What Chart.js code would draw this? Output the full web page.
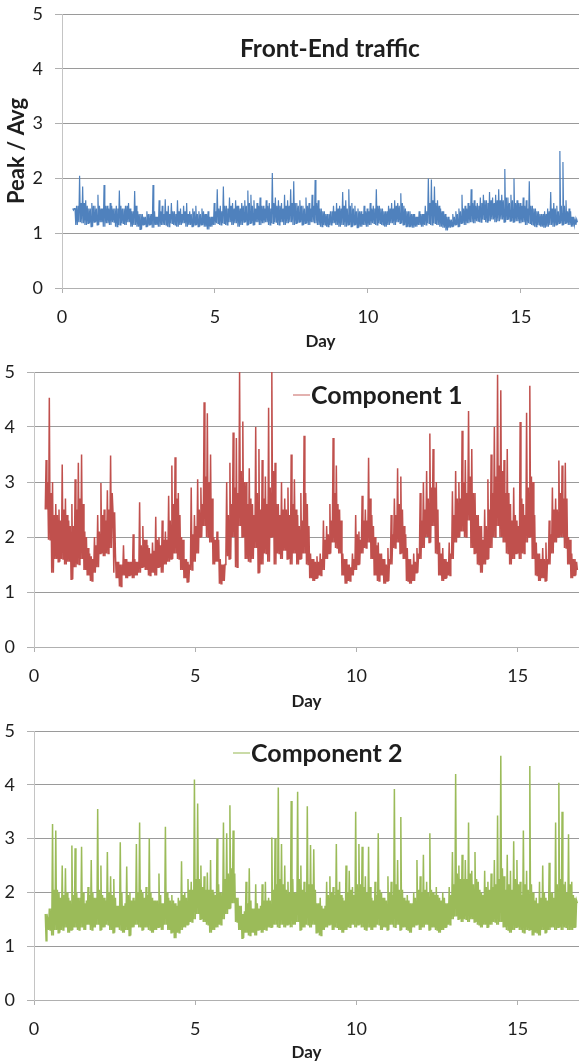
<!DOCTYPE html>
<html>
<head>
<meta charset="utf-8">
<title>Peak / Avg per day</title>
<script src="https://cdn.jsdelivr.net/npm/chart.js@4.4.0/dist/chart.umd.min.js"></script>
<style>
  html, body { margin: 0; padding: 0; background: #ffffff; }
  body { width: 579px; height: 1064px; position: relative; overflow: hidden; }
  .panel { position: absolute; left: 0; width: 579px; }
  canvas { display: block; }
</style>
</head>
<body>
<div class="panel" style="top:0;height:355px"><canvas id="frontEndChart" width="579" height="355"></canvas></div>
<div class="panel" style="top:355px;height:355px"><canvas id="component1Chart" width="579" height="355"></canvas></div>
<div class="panel" style="top:710px;height:354px"><canvas id="component2Chart" width="579" height="354"></canvas></div>
<script>
// Each 0.1-day window starts at day 0.35 + 0.1*j.
const DAY_START = 0.35;
const WINDOW = 0.1;

const dayTicks = [0, 5, 10, 15];
const ratioTicks = [0, 1, 2, 3, 4, 5];

const titles = {
  frontEnd: 'Front-End traffic',
  component1: 'Component 1',
  component2: 'Component 2',
  xAxis: 'Day',
  yAxis: 'Peak / Avg'
};

// Peak / Avg ratio: per window a (floor, peak) pair, one row per day, closing value at the end
const frontEnd = [
  1.45,1.42, 1.15,1.5, 1.2,2.05, 1.18,1.85, 1.15,1.6, 1.18,1.45, 1.12,1.55, 1.2,1.5, 1.15,1.7, 1.2,1.45,
  1.12,1.88, 1.18,1.5, 1.15,1.55, 1.2,1.45, 1.12,1.5, 1.15,1.78, 1.18,1.45, 1.15,1.5, 1.2,1.55, 1.12,1.4,
  1.15,1.77, 1.12,1.4, 1.07,1.35, 1.15,1.3, 1.12,1.4, 1.15,1.35, 1.1,1.88, 1.15,1.3, 1.12,1.6, 1.15,1.5,
  1.15,1.62, 1.12,1.5, 1.18,1.55, 1.15,1.4, 1.12,1.6, 1.15,1.45, 1.18,1.5, 1.12,1.55, 1.15,1.4, 1.12,1.45,
  1.15,1.5, 1.12,1.4, 1.15,1.45, 1.12,1.35, 1.07,1.4, 1.12,1.3, 1.15,1.55, 1.18,1.8, 1.15,1.5, 1.18,1.85,
  1.15,1.5, 1.2,1.65, 1.15,1.55, 1.18,1.6, 1.12,1.5, 1.15,1.55, 1.2,1.6, 1.15,1.78, 1.18,1.7, 1.15,1.6,
  1.2,1.55, 1.15,1.65, 1.18,1.5, 1.2,1.6, 1.15,1.55, 1.18,2.1, 1.2,1.65, 1.15,1.6, 1.2,1.55, 1.15,1.7,
  1.18,1.6, 1.2,1.8, 1.15,1.95, 1.18,1.55, 1.2,1.6, 1.15,1.5, 1.18,1.65, 1.15,1.55, 1.2,1.7, 1.18,1.97,
  1.15,1.6, 1.12,1.45, 1.15,1.4, 1.12,1.35, 1.15,1.4, 1.18,1.5, 1.15,1.55, 1.12,1.5, 1.15,1.75, 1.12,1.6,
  1.15,1.8, 1.12,1.55, 1.15,1.5, 1.1,1.45, 1.12,1.4, 1.15,1.5, 1.12,1.45, 1.15,1.55, 1.18,1.5, 1.15,1.8,
  1.18,1.5, 1.15,1.45, 1.12,1.4, 1.15,1.5, 1.18,1.55, 1.15,1.6, 1.2,1.55, 1.18,1.73, 1.15,1.5, 1.12,1.4,
  1.12,1.4, 1.1,1.35, 1.12,1.3, 1.15,1.4, 1.12,1.35, 1.15,1.5, 1.18,2.0, 1.15,1.98, 1.18,1.85, 1.15,1.6,
  1.12,1.45, 1.1,1.4, 1.05,1.3, 1.1,1.25, 1.12,1.35, 1.15,1.4, 1.12,1.45, 1.18,1.7, 1.15,1.5, 1.18,1.55,
  1.2,1.8, 1.18,1.6, 1.22,1.55, 1.2,1.65, 1.25,1.7, 1.2,1.6, 1.22,1.75, 1.25,1.65, 1.2,1.7, 1.22,1.8,
  1.25,1.7, 1.2,2.17, 1.25,1.65, 1.22,1.7, 1.2,2.0, 1.22,1.6, 1.18,1.55, 1.2,1.65, 1.15,1.6, 1.18,1.95,
  1.15,1.5, 1.12,1.45, 1.15,1.4, 1.12,1.35, 1.1,1.4, 1.12,1.45, 1.15,1.75, 1.12,1.55, 1.15,1.5, 1.18,2.5,
  1.15,2.3, 1.18,1.6, 1.15,1.45, 1.12,1.3, 1.15,1.25, 1.2
];
// Upper edge of the dense band in each window
const frontEndBand = [
  1.45,1.5,1.55,1.55,1.5,1.45,1.5,1.45,1.5,1.45,
  1.5,1.45,1.5,1.45,1.45,1.5,1.45,1.5,1.45,1.4,
  1.5,1.35,1.35,1.3,1.35,1.35,1.4,1.3,1.4,1.35,
  1.4,1.35,1.4,1.35,1.4,1.35,1.4,1.35,1.35,1.4,
  1.35,1.35,1.4,1.35,1.3,1.3,1.4,1.45,1.4,1.5,
  1.45,1.5,1.45,1.5,1.45,1.5,1.5,1.55,1.5,1.45,
  1.5,1.5,1.45,1.5,1.45,1.55,1.5,1.5,1.45,1.5,
  1.5,1.55,1.55,1.5,1.5,1.45,1.5,1.45,1.5,1.55,
  1.45,1.4,1.35,1.35,1.4,1.4,1.45,1.45,1.5,1.45,
  1.5,1.45,1.4,1.4,1.35,1.4,1.4,1.45,1.45,1.5,
  1.45,1.4,1.4,1.45,1.45,1.5,1.5,1.55,1.45,1.4,
  1.35,1.35,1.3,1.35,1.35,1.4,1.55,1.6,1.55,1.5,
  1.4,1.35,1.3,1.25,1.3,1.35,1.4,1.45,1.45,1.5,
  1.55,1.5,1.5,1.55,1.6,1.55,1.6,1.55,1.6,1.6,
  1.6,1.65,1.55,1.6,1.55,1.55,1.5,1.5,1.45,1.5,
  1.45,1.4,1.35,1.35,1.35,1.4,1.45,1.45,1.4,1.5,
  1.5,1.4,1.4,1.3,1.25
];

const component1 = [
  2.5,3.4, 1.95,4.53, 1.35,3.0, 1.6,2.6, 1.55,2.5, 1.6,3.32, 1.5,2.7, 1.55,2.3, 1.23,2.6, 1.45,3.05,
  1.5,3.35, 1.6,3.5, 1.4,2.1, 1.3,1.8, 1.2,1.65, 1.35,2.0, 1.45,2.4, 1.7,2.98, 1.65,2.5, 1.7,2.85,
  1.8,3.48, 2.45,1.35, 1.25,1.55, 1.1,1.5, 1.3,1.85, 1.25,1.6, 1.3,1.55, 1.25,2.05, 1.3,1.55, 1.35,2.63,
  1.45,2.2, 1.4,1.95, 1.3,1.8, 1.35,1.9, 1.3,2.37, 1.45,2.0, 1.35,2.3, 1.5,2.1, 1.55,2.75, 1.6,3.3,
  1.7,3.45, 1.6,2.8, 1.4,2.0, 1.25,1.6, 1.18,1.55, 1.4,2.9, 1.55,2.4, 1.7,3.05, 2.0,2.9, 2.2,4.45,
  2.0,4.25, 1.9,3.5, 1.5,2.0, 1.55,2.1, 1.15,1.6, 1.2,1.5, 1.65,3.0, 1.6,3.35, 2.0,3.9, 1.45,3.8,
  2.2,5.0, 2.0,4.1, 1.6,3.0, 1.55,3.25, 1.6,2.6, 1.8,4.0, 1.35,3.6, 1.5,3.4, 1.7,3.1, 1.55,4.35,
  2.0,5.0, 1.5,3.35, 1.7,2.6, 1.6,3.0, 1.75,2.7, 1.6,2.9, 1.5,3.5, 1.7,3.05, 1.5,2.4, 1.6,2.8,
  1.7,3.84, 1.5,2.6, 1.25,1.7, 1.2,1.6, 1.25,1.65, 1.3,1.7, 1.4,2.3, 1.6,2.2, 1.7,2.6, 1.9,3.8,
  1.8,3.3, 1.7,2.5, 1.3,1.7, 1.15,1.6, 1.2,1.5, 1.3,1.7, 1.4,2.4, 1.5,2.1, 1.7,2.75, 1.8,2.5,
  1.9,3.44, 1.6,2.4, 1.3,2.0, 1.2,1.9, 1.3,1.7, 1.15,1.6, 1.2,1.8, 1.5,2.4, 1.8,2.7, 1.9,3.25,
  1.7,3.1, 1.6,2.2, 1.2,1.8, 1.15,1.6, 1.2,1.7, 1.35,1.8, 1.6,2.8, 1.8,3.0, 2.0,3.2, 1.9,3.88,
  2.2,3.6, 1.7,3.0, 1.3,1.9, 1.2,1.8, 1.25,1.6, 1.3,1.9, 1.6,2.83, 1.9,3.2, 2.0,3.0, 2.1,3.93,
  2.0,3.4, 2.3,4.29, 1.8,3.6, 1.7,2.8, 1.5,2.4, 1.35,2.2, 1.5,2.5, 1.6,3.05, 1.8,3.5, 2.0,4.0,
  2.2,4.95, 2.0,4.67, 1.9,3.4, 1.7,3.6, 1.5,2.6, 1.6,2.9, 1.7,2.3, 1.6,4.09, 1.7,2.6, 1.9,4.26,
  2.0,4.75, 1.6,3.0, 1.3,1.9, 1.2,1.7, 1.25,1.8, 1.2,1.9, 1.5,2.3, 1.7,2.9, 1.9,2.7, 2.0,3.39,
  2.0,3.3, 1.8,3.35, 1.5,2.0, 1.25,1.7, 1.3,1.6, 1.4
];
const component1Band = [
  3.0,2.8,2.4,2.4,2.3,2.5,2.4,2.2,2.2,2.5,
  2.7,2.6,2.0,1.7,1.6,1.85,2.1,2.4,2.3,2.5,
  2.8,1.7,1.55,1.5,1.6,1.55,1.55,1.6,1.55,1.85,
  1.95,1.85,1.7,1.75,1.95,1.85,1.95,1.95,2.3,2.6,
  2.7,2.4,1.95,1.6,1.5,2.05,2.2,2.5,2.6,3.1,
  3.0,2.7,1.95,1.95,1.5,1.5,2.4,2.6,2.9,2.8,
  3.2,3.0,2.6,2.7,2.4,2.8,2.5,2.7,2.6,2.9,
  3.2,2.6,2.4,2.5,2.5,2.4,2.6,2.5,2.2,2.3,
  2.8,2.2,1.6,1.55,1.55,1.6,1.95,2.05,2.3,2.8,
  2.6,2.3,1.6,1.5,1.45,1.6,2.05,1.95,2.3,2.3,
  2.7,2.2,1.85,1.7,1.6,1.5,1.6,2.05,2.4,2.6,
  2.5,2.05,1.6,1.5,1.55,1.7,2.3,2.5,2.7,2.9,
  2.9,2.5,1.7,1.6,1.55,1.7,2.4,2.7,2.7,3.0,
  2.8,3.1,2.8,2.4,2.2,1.95,2.2,2.5,2.8,3.1,
  3.3,3.2,2.8,2.8,2.3,2.4,2.2,2.7,2.4,2.9,
  3.1,2.4,1.7,1.6,1.6,1.6,2.05,2.5,2.5,2.8,
  2.7,2.7,1.95,1.6,1.55
];

const component2 = [
  1.6,1.1, 1.3,1.7, 1.2,3.27, 1.3,3.15, 1.25,2.0, 1.3,2.5, 1.35,2.45, 1.25,1.9, 1.3,2.87, 1.35,2.82,
  1.3,1.9, 1.35,2.85, 1.3,1.8, 1.4,2.1, 1.3,2.6, 1.35,1.9, 1.4,3.55, 1.3,2.5, 1.35,1.9, 1.4,2.75,
  1.3,2.3, 1.25,2.25, 1.35,1.75, 1.3,2.93, 1.25,1.75, 1.3,2.48, 1.2,2.0, 1.35,1.9, 1.4,2.9, 1.35,3.3,
  1.3,2.0, 1.35,2.1, 1.3,3.0, 1.25,1.9, 1.3,1.85, 1.35,2.35, 1.3,1.8, 1.4,3.22, 1.3,1.9, 1.25,1.95,
  1.15,1.8, 1.25,1.9, 1.3,2.58, 1.35,2.0, 1.4,2.25, 1.45,2.2, 1.5,4.1, 1.6,3.65, 1.5,2.5, 1.45,2.3,
  1.4,2.37, 1.25,2.6, 1.3,2.0, 1.35,3.0, 1.4,2.0, 1.5,3.3, 1.6,3.1, 1.7,3.62, 1.8,3.15, 1.45,1.9,
  1.3,1.75, 1.15,1.6, 1.25,2.2, 1.2,2.45, 1.25,1.7, 1.2,2.15, 1.3,1.7, 1.25,2.15, 1.3,2.2, 1.35,1.9,
  1.35,3.02, 1.4,3.0, 1.35,3.95, 1.4,2.9, 1.35,2.5, 1.4,2.2, 1.35,3.7, 1.4,2.0, 1.45,3.87, 1.3,2.5,
  1.35,2.2, 1.4,3.6, 1.35,2.88, 1.4,2.8, 1.25,1.8, 1.2,1.9, 1.3,1.7, 1.35,2.2, 1.4,2.3, 1.3,2.1,
  1.35,2.9, 1.3,2.2, 1.25,1.9, 1.3,2.5, 1.35,2.4, 1.4,2.1, 1.35,3.5, 1.4,2.9, 1.35,2.85, 1.3,2.3,
  1.35,2.85, 1.3,1.9, 1.35,2.2, 1.4,3.1, 1.3,2.0, 1.35,1.9, 1.3,2.3, 1.4,2.2, 1.35,3.92, 1.4,2.6,
  1.3,3.4, 1.35,1.9, 1.3,1.95, 1.25,1.8, 1.35,2.0, 1.4,2.6, 1.3,2.3, 1.35,2.7, 1.4,2.2, 1.3,3.1,
  1.35,2.0, 1.3,2.1, 1.25,1.9, 1.3,2.0, 1.35,1.8, 1.4,2.1, 1.5,2.75, 1.55,4.2, 1.5,2.5, 1.45,2.7,
  1.5,2.6, 1.45,3.3, 1.5,2.4, 1.45,2.75, 1.4,2.2, 1.35,2.0, 1.4,2.4, 1.35,2.2, 1.4,2.35, 1.45,2.6,
  1.4,3.43, 1.45,4.54, 1.35,2.3, 1.3,2.7, 1.25,2.4, 1.3,2.95, 1.35,2.6, 1.3,2.2, 1.25,3.15, 1.3,2.4,
  1.3,4.35, 1.2,2.0, 1.25,1.9, 1.2,2.2, 1.3,2.5, 1.25,1.9, 1.3,2.55, 1.35,2.0, 1.3,3.3, 1.35,4.04,
  1.3,3.5, 1.35,2.2, 1.3,3.08, 1.3,2.2, 1.35,1.9, 1.8
];
const component2Band = [
  1.5,1.7,2.05,2.05,1.9,1.95,2.0,1.85,1.95,2.0,
  1.9,2.0,1.85,1.95,2.0,1.9,2.05,1.95,1.85,2.0,
  1.95,1.9,1.75,2.0,1.8,1.95,1.85,1.85,2.0,2.05,
  1.9,1.95,2.0,1.85,1.85,1.95,1.8,2.0,1.85,1.85,
  1.75,1.85,1.95,1.9,2.05,2.05,2.25,2.25,2.1,2.05,
  2.05,2.05,1.95,2.15,2.0,2.25,2.35,2.45,2.35,1.9,
  1.75,1.65,1.8,1.85,1.7,1.8,1.75,1.85,1.85,1.85,
  2.05,2.15,2.25,2.15,2.05,2.0,2.25,2.0,2.25,2.05,
  2.0,2.15,2.15,2.05,1.8,1.75,1.75,1.95,2.0,1.95,
  2.05,1.95,1.85,2.0,2.05,1.95,2.15,2.15,2.1,2.0,
  2.1,1.85,1.95,2.05,1.9,1.85,2.0,1.95,2.15,2.05,
  2.05,1.85,1.85,1.8,1.9,2.05,2.0,2.05,2.0,2.05,
  1.95,1.95,1.85,1.9,1.8,1.95,2.15,2.35,2.25,2.25,
  2.25,2.35,2.15,2.25,2.05,1.95,2.1,2.05,2.1,2.15,
  2.25,2.45,2.05,2.15,2.05,2.25,2.15,1.95,2.15,2.05,
  2.15,1.85,1.8,1.9,2.0,1.85,2.0,1.9,2.15,2.25,
  2.15,2.0,2.15,1.95,1.85
];

const FONT = 'Lato, "Open Sans", "DejaVu Sans", sans-serif';
const TEXT = '#1e1e1e';

// Within a window the trace runs floor -> peak -> floor -> band edge, a quarter window apart.
function toPoints(pairs, band) {
  const pts = [];
  const q = WINDOW / 4;
  for (let j = 0; j < band.length; j++) {
    const x0 = DAY_START + j * WINDOW;
    const floor = pairs[2 * j];
    pts.push({ x: x0, y: floor });
    pts.push({ x: x0 + q, y: pairs[2 * j + 1] });
    pts.push({ x: x0 + 2 * q, y: floor });
    pts.push({ x: x0 + 3 * q, y: band[j] });
  }
  pts.push({ x: DAY_START + band.length * WINDOW, y: pairs[pairs.length - 1] });
  return pts;
}

// Caption drawn inside the plot: a plain title, or a legend entry with a line swatch.
const inPlotCaption = {
  id: 'inPlotCaption',
  afterDraw(chart, args, opts) {
    if (!opts || !opts.text) return;
    const ctx = chart.ctx;
    ctx.save();
    ctx.font = 'bold ' + opts.size + 'px ' + FONT;
    ctx.fillStyle = TEXT;
    ctx.textAlign = 'left';
    ctx.textBaseline = 'alphabetic';
    if (opts.swatch) {
      ctx.strokeStyle = opts.swatch;
      ctx.lineWidth = 1.5;
      ctx.beginPath();
      ctx.moveTo(opts.x - 18, opts.swatchY);
      ctx.lineTo(opts.x - 1, opts.swatchY);
      ctx.stroke();
    }
    ctx.fillText(opts.text, opts.x, opts.y);
    ctx.restore();
  }
};

// Keep the plot area exactly where the layout puts it: no extra room for end labels.
function noEdgePadding(s) {
  s.paddingTop = 0; s.paddingBottom = 0; s.paddingLeft = 0; s.paddingRight = 0;
}

function makePanel(id, values, band, color, cfg) {
  return new Chart(document.getElementById(id), {
    type: 'line',
    data: {
      datasets: [{
        label: cfg.label,
        data: toPoints(values, band),
        borderColor: color,
        borderWidth: cfg.lineWidth,
        pointRadius: 0,
        tension: 0,
        fill: false,
        borderJoinStyle: 'miter'
      }]
    },
    options: {
      responsive: false,
      animation: false,
      devicePixelRatio: 1,
      parsing: false,
      normalized: true,
      events: [],
      layout: { padding: { top: cfg.padTop, right: 0, bottom: 0, left: 0 } },
      plugins: {
        legend: { display: false },
        tooltip: { enabled: false },
        inPlotCaption: cfg.caption
      },
      scales: {
        x: {
          type: 'linear',
          min: 0,
          max: 16.9,
          afterBuildTicks: s => { s.ticks = dayTicks.map(v => ({ value: v })); },
          afterFit: s => { s.height = cfg.xHeight; noEdgePadding(s); },
          ticks: { color: TEXT, font: { family: FONT, size: 18 }, padding: 13, maxRotation: 0, includeBounds: false },
          grid: { display: true, drawOnChartArea: false, drawTicks: true, tickLength: 5, color: '#b0b0b0' },
          border: { display: true, color: '#b0b0b0', width: 1 },
          title: {
            display: true, text: titles.xAxis, color: TEXT,
            font: { family: FONT, size: 17, weight: 'bold' },
            padding: { top: 0, bottom: cfg.dayPad }
          }
        },
        y: {
          type: 'linear',
          min: 0,
          max: 5,
          afterBuildTicks: s => { s.ticks = ratioTicks.map(v => ({ value: v })); },
          afterFit: s => { s.width = cfg.yWidth; noEdgePadding(s); },
          ticks: { color: TEXT, font: { family: FONT, size: 18 }, padding: 12 },
          grid: {
            display: true, drawOnChartArea: true, drawTicks: true, tickLength: 7,
            color: '#9a9a9a', borderDash: [4, 3], tickBorderDash: [], tickColor: '#b0b0b0'
          },
          border: { display: true, color: '#c4c4c4', width: 1 },
          title: {
            display: !!cfg.yTitle, text: cfg.yTitle || '', color: TEXT,
            font: { family: FONT, size: 22, weight: 'bold' },
            padding: { top: 4, bottom: 0 }
          }
        }
      }
    },
    plugins: [inPlotCaption]
  });
}

makePanel('frontEndChart', frontEnd, frontEndBand, '#4f81bd', {
  label: titles.frontEnd, padTop: 14, xHeight: 67, yWidth: 62, dayPad: 3, yTitle: titles.yAxis, lineWidth: 1.2,
  caption: { text: titles.frontEnd, size: 24.5, x: 240, y: 57 }
});

makePanel('component1Chart', component1, component1Band, '#c0504d', {
  label: titles.component1, padTop: 17, xHeight: 63, yWidth: 34, dayPad: -2, lineWidth: 1.5,
  caption: { text: titles.component1, size: 25, x: 311, y: 49, swatch: 'rgba(192,80,77,0.6)', swatchY: 40 }
});

makePanel('component2Chart', component2, component2Band, '#9bbb59', {
  label: titles.component2, padTop: 21, xHeight: 64, yWidth: 34, dayPad: 1, lineWidth: 1.5,
  caption: { text: titles.component2, size: 25, x: 251, y: 52, swatch: 'rgba(155,187,89,0.7)', swatchY: 43 }
});
</script>
</body>
</html>
